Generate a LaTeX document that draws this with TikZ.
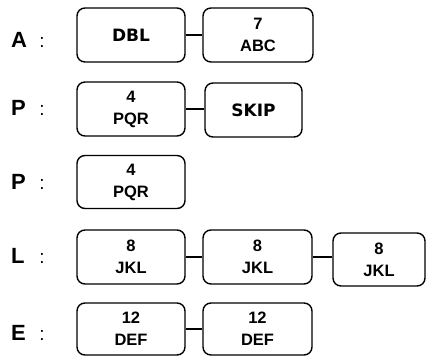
\documentclass[tikz,border=0pt]{standalone}
\usepackage{fontspec}
\setmainfont{Liberation Sans}
\newfontfamily\keyfont{DejaVu Sans}
\begin{document}
\begin{tikzpicture}[x=1pt,y=-1pt,
  key/.style={draw, rounded corners=8pt, line width=1.4pt, inner sep=0pt,
    minimum width=108pt, minimum height=54pt, align=center,
    font=\fontsize{16.5}{22}\selectfont\bfseries},
  wordkey/.style={key, font=\keyfont\fontsize{17}{20}\selectfont\bfseries},
  letter/.style={anchor=base west, inner sep=0pt, font=\fontsize{22}{24}\selectfont\bfseries},
  colon/.style={anchor=base, inner sep=0pt, font=\fontsize{19}{22}\selectfont},
  link/.style={line width=1.5pt}]
\useasboundingbox (0,0) rectangle (426,356);
% row A
\node[wordkey] (b11) at (131,35) {DBL};
\node[key, minimum width=110pt] (b12) at (258,35) {7\\ABC};
\node[letter] (la) at (11,47) {A};
\node[colon] (ca) at (42,47) {:};
\draw[link] (b11.east) -- (b11.east -| b12.west);
% row P
\node[key] (b21) at (131,109) {4\\PQR};
\node[wordkey, minimum width=97pt] (b22) at (253.5,110) {SKIP};
\node[letter] (lp1) at (11,115) {P};
\node[colon] (cp1) at (42,115) {:};
\draw[link] (b21.east) -- (b21.east -| b22.west);
% row P
\node[key, minimum height=53pt] (b31) at (131,182) {4\\PQR};
\node[letter] (lp2) at (11,189) {P};
\node[colon] (cp2) at (42,189) {:};
% row L
\node[key, minimum height=54pt] (b41) at (131,257) {8\\JKL};
\node[key, minimum width=109pt] (b42) at (257.5,257) {8\\JKL};
\node[key, minimum width=92pt, minimum height=53pt] (b43) at (379,259.5) {8\\JKL};
\node[letter] (ll) at (11,263) {L};
\node[colon] (cl) at (42,263) {:};
\draw[link] (b41.east) -- (b41.east -| b42.west);
\draw[link] (b42.east) -- (b42.east -| b43.west);
% row E
\node[key, minimum height=52pt] (b51) at (131,329) {12\\DEF};
\node[key, minimum width=109pt, minimum height=52pt] (b52) at (257.5,329) {12\\DEF};
\node[letter] (le) at (11,340) {E};
\node[colon] (ce) at (42,340) {:};
\draw[link] (b51.east) -- (b51.east -| b52.west);
\end{tikzpicture}
\end{document}
